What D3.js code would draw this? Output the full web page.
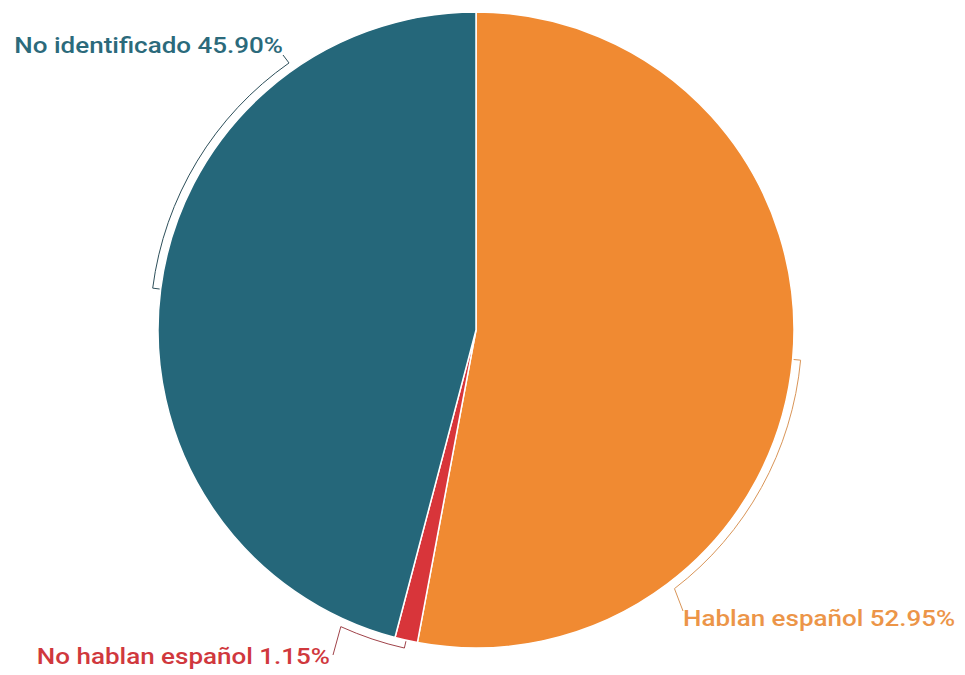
<!DOCTYPE html>
<html><head><meta charset="utf-8">
<script src="https://cdn.jsdelivr.net/npm/d3@7"></script>
<style>body{margin:0;background:#fff}svg{display:block}text{font-family:Roboto,"Noto Sans",sans-serif;font-weight:500}</style>
</head><body>
<svg id="c" width="965" height="675"></svg>
<script>
const categories = ["Hablan español", "No hablan español", "No identificado"];
const values = [52.95, 1.15, 45.90];
const colors = ["#f08a32", "#d8353a", "#25677a"];
const textColors = ["#ec9548", "#d0383d", "#2b6a7b"];
const lineColors = ["#d99558", "#a0434a", "#2d4f5a"];

const W = 965, H = 675, cx = 476, cy = 330, R = 318;
const svg = d3.select("#c");
const g = svg.append("g").attr("transform", `translate(${cx},${cy})`);
const data = categories.map((c, i) => ({cat: c, value: values[i], i}));
const pie = d3.pie().sort(null).value(d => d.value);
const arcs = pie(data);
const arc = d3.arc().innerRadius(0).outerRadius(R);
g.selectAll("path.s").data(arcs).join("path").attr("class", "s")
  .attr("d", arc).attr("fill", d => colors[d.data.i])
  .attr("stroke", "#fff").attr("stroke-width", 1.5);

// label layout: bracket end angle (deg) and text anchor
const layout = [
  {end: 142.5, tx: 683, ty: 626, anchor: "start", lx: 683, ly: 611},
  {end: 204.5, tx: 330, ty: 664, anchor: "end", lx: 333, ly: 655},
  {end: 325, tx: 283, ty: 53, anchor: "end", lx: 283, ly: 55}
];
const rb = R + 8, rt = R + 1;
const rad = a => a * Math.PI / 180;
const pt = (a, r) => [Math.sin(rad(a)) * r, -Math.cos(rad(a)) * r];
arcs.forEach((d, k) => {
  const L = layout[k];
  const mid = (d.startAngle + d.endAngle) / 2 * 180 / Math.PI;
  const p0 = pt(mid, rt), p1 = pt(mid, rb);
  const a0 = rad(mid), a1 = rad(L.end);
  const path = d3.path();
  path.moveTo(p0[0], p0[1]);
  path.lineTo(p1[0], p1[1]);
  path.arc(0, 0, rb, a0 - Math.PI / 2, a1 - Math.PI / 2, a1 < a0);
  path.lineTo(L.lx - cx, L.ly - cy);
  g.append("path").attr("d", path.toString()).attr("fill", "none")
    .attr("stroke", lineColors[k]).attr("stroke-width", 1);
  const t = svg.append("text").attr("x", L.tx).attr("y", L.ty).attr("text-anchor", L.anchor)
    .attr("font-size", 22.5).attr("fill", textColors[k])
    .text(`${d.data.cat} ${d.data.value.toFixed(2)}%`);
  const w = t.node().getComputedTextLength();
  t.attr("textLength", w * 1.155).attr("lengthAdjust", "spacingAndGlyphs");
});
</script>
</body></html>
